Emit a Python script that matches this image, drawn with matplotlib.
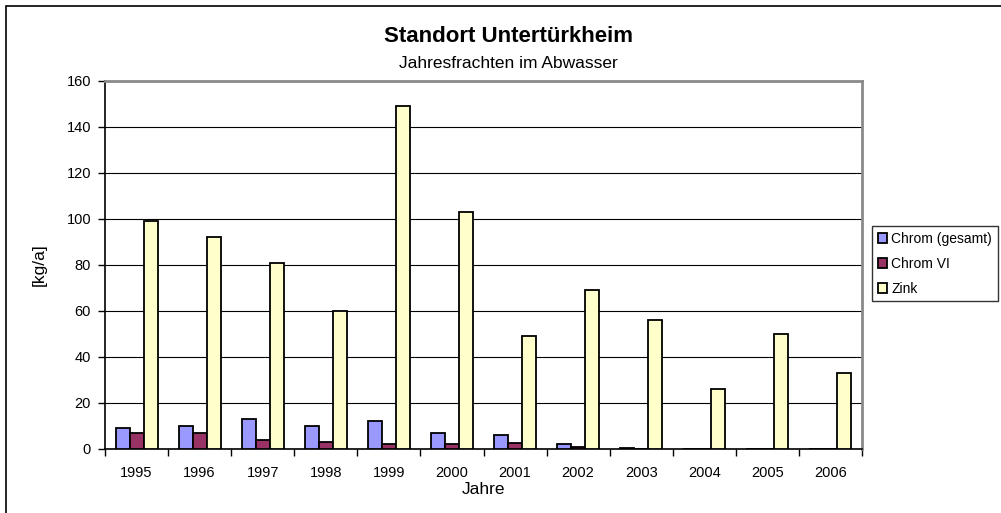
import matplotlib.pyplot as plt
import matplotlib.patches as mpatches
import numpy as np

plt.rcParams['font.family'] = ['Liberation Sans', 'DejaVu Sans']

years = ['1995', '1996', '1997', '1998', '1999', '2000',
         '2001', '2002', '2003', '2004', '2005', '2006']
chrom_ges = [9, 10, 13, 10, 12, 7, 6, 2.2, 0.5, 0, 0, 0]
chrom_vi = [7, 7, 4, 3, 2, 2, 2.5, 1, 0, 0, 0, 0]
zink = [99, 92, 81, 60, 149, 103, 49, 69, 56, 26, 50, 33]
series = [('Chrom (gesamt)', chrom_ges, '#9999FF'),
          ('Chrom VI', chrom_vi, '#993366'),
          ('Zink', zink, '#FFFFCC')]

fig = plt.figure(figsize=(10.01, 5.13), dpi=100)
ax = fig.add_axes([105 / 1001, 1 - 449 / 513, 757 / 1001, 368 / 513])

x = np.arange(len(years))
w = 0.222
for i, (name, vals, col) in enumerate(series):
    ax.bar(x + (i - 1) * w, vals, w, color=col, edgecolor='black',
           linewidth=1.3, label=name, zorder=3)

ax.set_xlim(-0.5, len(years) - 0.5)
ax.set_ylim(0, 160)
ax.set_yticks(range(0, 161, 20))
ax.yaxis.grid(True, color='black', linewidth=0.8, zorder=0)

ax.set_xticks(x)
ax.set_xticklabels(years, fontsize=10.5)
ax.set_xticks(np.arange(-0.5, len(years)), minor=True)
ax.tick_params(axis='x', which='major', length=0, pad=12)
ax.tick_params(axis='x', which='minor', length=5, width=1, direction='out')
ax.tick_params(axis='y', length=5, width=1, direction='out', labelsize=10.5, pad=5)

ax.spines['left'].set_color('black')
ax.spines['bottom'].set_color('black')
ax.spines['left'].set_linewidth(1.2)
ax.spines['bottom'].set_linewidth(1.2)
for s in ['top', 'right']:
    ax.spines[s].set_color('#8a8a8a')
    ax.spines[s].set_linewidth(2)

ax.set_ylabel('[kg/a]', fontsize=12.5, labelpad=14)
ax.set_xlabel('Jahre', fontsize=12.5, labelpad=2)

fig.text(508 / 1001, 1 - 37 / 513, 'Standort Untertürkheim', ha='center',
         va='center', fontsize=16, fontweight='bold')
fig.text(508 / 1001, 1 - 64 / 513, 'Jahresfrachten im Abwasser', ha='center',
         va='center', fontsize=12.5)

leg = fig.legend(loc='upper left', bbox_to_anchor=(872 / 1001, 1 - 226 / 513),
                 fontsize=10, frameon=True, fancybox=False, handlelength=0.7,
                 handleheight=0.7, handletextpad=0.3, borderpad=0.4,
                 labelspacing=0.8, borderaxespad=0)
leg.get_frame().set_edgecolor('black')
leg.get_frame().set_linewidth(1)

# outer chart frame
fig.patches.append(mpatches.Rectangle((6 / 1001, -0.1), 1.2, 1.1 - 6 / 513,
                                      transform=fig.transFigure, fill=False,
                                      edgecolor='black', linewidth=1.2))

fig.savefig('out.png', dpi=100)
